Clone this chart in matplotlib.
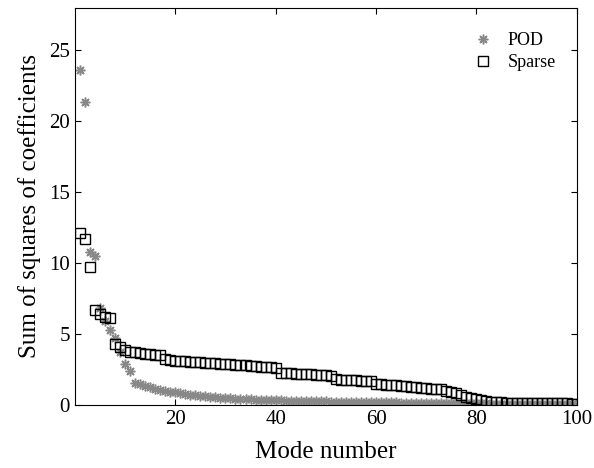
import matplotlib
matplotlib.use('Agg')
import matplotlib.pyplot as plt
import numpy as np

modes = np.arange(1, 101)

pod = [23.6, 21.4, 10.8, 10.5, 6.8, 5.9, 5.3, 4.7, 3.7, 2.9,
       2.4, 1.55, 1.45, 1.35, 1.25, 1.15, 1.08, 1.0, 0.93, 0.87,
       0.82, 0.77, 0.72, 0.68, 0.64, 0.60, 0.56, 0.53, 0.50, 0.47,
       0.45, 0.43, 0.41, 0.39, 0.38, 0.36, 0.35, 0.34, 0.33, 0.32,
       0.31, 0.30, 0.29, 0.28, 0.27, 0.27, 0.26, 0.25, 0.25, 0.24,
       0.23, 0.23, 0.22, 0.22, 0.21, 0.21, 0.20, 0.20, 0.19, 0.19,
       0.18, 0.18, 0.17, 0.17, 0.16, 0.16, 0.16, 0.15, 0.15, 0.14,
       0.14, 0.14, 0.13, 0.13, 0.12, 0.12, 0.12, 0.11, 0.11, 0.10,
       0.10, 0.10, 0.09, 0.09, 0.08, 0.08, 0.08, 0.07, 0.07, 0.06,
       0.06, 0.06, 0.05, 0.05, 0.05, 0.04, 0.04, 0.03, 0.03, 0.02]

sparse = [12.1, 11.7, 9.7, 6.7, 6.4, 6.2, 6.1, 4.3, 4.1, 3.9,
          3.75, 3.7, 3.65, 3.62, 3.58, 3.55, 3.5, 3.2, 3.15, 3.12,
          3.1, 3.08, 3.05, 3.02, 3.0, 2.97, 2.94, 2.92, 2.9, 2.88,
          2.85, 2.82, 2.8, 2.78, 2.75, 2.72, 2.7, 2.68, 2.65, 2.62,
          2.25, 2.23, 2.21, 2.2, 2.18, 2.16, 2.14, 2.12, 2.1, 2.08,
          2.06, 1.8, 1.78, 1.76, 1.74, 1.72, 1.7, 1.68, 1.66, 1.48,
          1.45, 1.42, 1.4, 1.37, 1.34, 1.3, 1.27, 1.24, 1.21, 1.18,
          1.15, 1.13, 1.1, 1.0, 0.92, 0.8, 0.68, 0.58, 0.5, 0.42,
          0.34, 0.27, 0.22, 0.19, 0.17, 0.16, 0.15, 0.15, 0.14, 0.14,
          0.13, 0.13, 0.12, 0.12, 0.11, 0.11, 0.1, 0.1, 0.09, 0.09]

plt.rcParams['font.family'] = ['Liberation Serif', 'DejaVu Serif']

fig = plt.figure(figsize=(5.94, 4.68), dpi=100)
ax = fig.add_axes([0.126, 0.135, 0.845, 0.848])

# matlab style asterisk: 8 arms
ax.plot(modes, pod, linestyle='none', marker=(8, 2, 0), markersize=7,
        color='#888888', markeredgewidth=1.1, label='POD')
ax.plot(modes, sparse, linestyle='none', marker='s', markersize=7,
        markerfacecolor='none', markeredgecolor='black', markeredgewidth=1.0,
        label='Sparse')

ax.set_xlim(0, 100)
ax.set_ylim(0, 28)
ax.set_xticks([20, 40, 60, 80, 100])
ax.set_yticks([0, 5, 10, 15, 20, 25])
ax.tick_params(direction='in', top=True, right=True, length=4, labelsize=15)
ax.set_xlabel('Mode number', fontsize=18, labelpad=9)
ax.set_ylabel('Sum of squares of coefficients', fontsize=18, labelpad=6)

ax.legend(loc='upper right', frameon=False, fontsize=13, handletextpad=0.4,
          labelspacing=0.3, borderaxespad=0.6, bbox_to_anchor=(0.995, 0.985))

fig.savefig('out.png', dpi=100)
